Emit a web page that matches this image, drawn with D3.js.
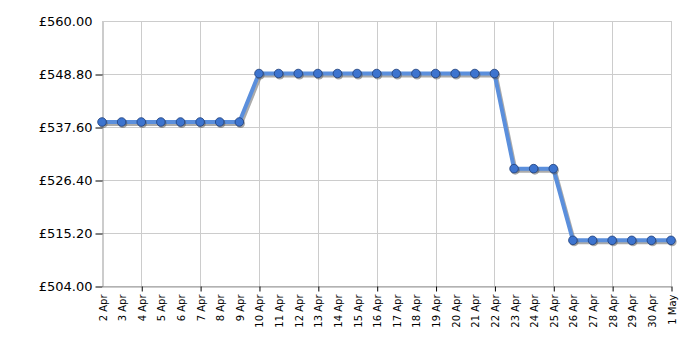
<!DOCTYPE html>
<html><head><meta charset="utf-8">
<script src="https://cdn.jsdelivr.net/npm/d3@7"></script>
<style>body{margin:0;background:#fff}svg{display:block}</style>
</head><body><svg id="c" width="700" height="350"></svg>
<script>
const dates = ["2 Apr","3 Apr","4 Apr","5 Apr","6 Apr","7 Apr","8 Apr","9 Apr","10 Apr","11 Apr","12 Apr","13 Apr","14 Apr","15 Apr","16 Apr","17 Apr","18 Apr","19 Apr","20 Apr","21 Apr","22 Apr","23 Apr","24 Apr","25 Apr","26 Apr","27 Apr","28 Apr","29 Apr","30 Apr","1 May"];
const prices = [538.66,538.66,538.66,538.66,538.66,538.66,538.66,538.66,548.9,548.9,548.9,548.9,548.9,548.9,548.9,548.9,548.9,548.9,548.9,548.9,548.9,528.8,528.8,528.8,513.65,513.65,513.65,513.65,513.65,513.65];
const yTicks = [504.00,515.20,526.40,537.60,548.80,560.00];

const svg = d3.select("#c");
const L=102,R=671,T=21,B=286;
const x = d3.scalePoint().domain(dates).range([L,R]);
const y = d3.scaleLinear().domain([504,560]).range([B,T]);
const majorIdx = d3.range(2,dates.length,3);

// grid
const g = svg.append("g");
g.selectAll(".hg").data(yTicks).enter().append("line")
  .attr("x1",L).attr("x2",R).attr("y1",d=>y(d)+0.5).attr("y2",d=>y(d)+0.5)
  .attr("stroke","#cccccc").attr("stroke-width",1);
g.selectAll(".vg").data(majorIdx.map(i=>dates[i])).enter().append("line")
  .attr("x1",d=>Math.round(x(d))+0.5).attr("x2",d=>Math.round(x(d))+0.5).attr("y1",T).attr("y2",B)
  .attr("stroke","#cccccc").attr("stroke-width",1);
g.append("line").attr("x1",L).attr("x2",R).attr("y1",T+0.5).attr("y2",T+0.5).attr("stroke","#cccccc");

// y axis
const ya = svg.append("g").attr("transform",`translate(${L+0.5},0.5)`)
  .call(d3.axisLeft(y).tickValues(yTicks).tickFormat(d=>"£"+d.toFixed(2)).tickSize(7).tickSizeOuter(0));
ya.select(".domain").attr("stroke","#999999");
ya.selectAll(".tick line").attr("stroke","#000");
ya.selectAll(".tick").filter(d=>d===560).select("line").attr("stroke","none");
ya.selectAll("text").attr("font-family","Verdana, 'DejaVu Sans', sans-serif").attr("font-size","13px").attr("fill","#000").attr("x",-10);

// x axis
const xa = svg.append("g").attr("transform",`translate(0.5,${B+0.5})`)
  .call(d3.axisBottom(x).tickSize(0).tickSizeOuter(0));
xa.select(".domain").attr("stroke","#999999");
xa.selectAll(".tick").filter((d,i)=>i%3===2).append("line").attr("y2",5).attr("stroke","#000");
xa.selectAll("text").attr("font-family","Verdana, 'DejaVu Sans', sans-serif").attr("font-size","10px").attr("fill","#000")
  .attr("transform","rotate(-90)").attr("text-anchor","end").attr("x",-8).attr("y",0).attr("dy","0.35em");

// line shadow + line
const line = d3.line().x((d,i)=>x(dates[i])).y(d=>y(d));
svg.append("path").datum(prices).attr("d",line).attr("fill","none")
  .attr("stroke","#888888").attr("stroke-opacity",0.7).attr("stroke-width",4).attr("transform","translate(1.5,2)").attr("stroke-linejoin","round");
svg.append("path").datum(prices).attr("d",line).attr("fill","none")
  .attr("stroke","#5b8fdc").attr("stroke-width",4).attr("stroke-linejoin","round");
// dots
svg.selectAll(".dsh").data(prices).enter().append("circle")
  .attr("cx",(d,i)=>x(dates[i])+1.2).attr("cy",d=>y(d)+1.5).attr("r",4.5).attr("fill","#555").attr("opacity",0.5);
svg.selectAll(".dot").data(prices).enter().append("circle")
  .attr("cx",(d,i)=>x(dates[i])).attr("cy",d=>y(d)).attr("r",4.3)
  .attr("fill","#3d74cf").attr("stroke","#1f3f78").attr("stroke-width",0.8);
</script></body></html>
